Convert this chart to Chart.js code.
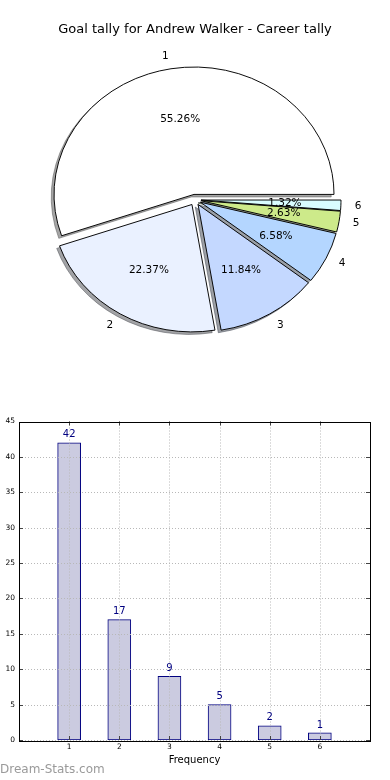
<!DOCTYPE html>
<html><head><meta charset="utf-8">
<script src="https://cdn.jsdelivr.net/npm/chart.js@4/dist/chart.umd.min.js"></script>
<style>
html,body{margin:0;padding:0;background:#fff;}
body{width:390px;height:780px;position:relative;overflow:hidden;font-family:"DejaVu Sans",sans-serif;}
#pie{position:absolute;left:0;top:0;}
#bar{position:absolute;left:0;top:400px;}
#wm{position:absolute;left:0;top:762px;font:12px "DejaVu Sans",sans-serif;color:#9a9a9a;white-space:nowrap;}
</style></head><body>
<canvas id="pie" width="390" height="362"></canvas>
<canvas id="bar" width="390" height="380"></canvas>
<div id="wm"></div>
<script>
// ---- data ----
const chartTitle = 'Goal tally for Andrew Walker - Career tally';
const categories = ['1', '2', '3', '4', '5', '6'];
const goalCounts = [42, 17, 9, 5, 2, 1];
const yTickValues = [0, 5, 10, 15, 20, 25, 30, 35, 40, 45];
const xAxisLabel = 'Frequency';
const watermarkText = 'Dream-Stats.com';
const pieColors = ['#ffffff', '#eaf1ff', '#c4d8ff', '#b4d6ff', '#cdea8a', '#d9fdff'];

document.getElementById('wm').textContent = watermarkText;

const total = goalCounts.reduce((a, b) => a + b, 0);
const pctLabels = goalCounts.map(v => (v / total * 100).toFixed(2) + '%');
const rev = a => a.slice().reverse();

const SY = 0.91, EXPLODE = 6, SHADOW = 2.8;
function shadowColor(hex) {
  const h = hex.replace('#', '');
  const r = parseInt(h.slice(0, 2), 16), g = parseInt(h.slice(2, 4), 16), b = parseInt(h.slice(4, 6), 16);
  return 'rgba(' + Math.round(r * 0.3) + ',' + Math.round(g * 0.3) + ',' + Math.round(b * 0.3) + ',0.5)';
}

const piePlugin = {
  id: 'pieExtras',
  afterUpdate(chart) {
    chart.getDatasetMeta(0).data.forEach(el => {
      if (el._patched) return;
      const orig = el.draw;
      el.draw = function (ctx, area) {
        const mid = (this.startAngle + this.endAngle) / 2;
        ctx.save();
        ctx.translate(Math.cos(mid) * EXPLODE, Math.sin(mid) * EXPLODE);
        orig.call(this, ctx, area);
        ctx.restore();
      };
      el._patched = true;
    });
  },
  beforeDatasetsDraw(chart) {
    const ctx = chart.ctx;
    const meta = chart.getDatasetMeta(0);
    const cx = meta.data[0].x, cy = meta.data[0].y;
    ctx.save();
    ctx.translate(cx, cy); ctx.scale(1, SY); ctx.translate(-cx, -cy);
    meta.data.forEach(el => {
      const mid = (el.startAngle + el.endAngle) / 2;
      const x = el.x + Math.cos(mid) * EXPLODE - SHADOW;
      const y = el.y + Math.sin(mid) * EXPLODE + SHADOW;
      const col = shadowColor(el.options.backgroundColor);
      ctx.beginPath();
      ctx.moveTo(x, y);
      ctx.arc(x, y, el.outerRadius, el.startAngle, el.endAngle);
      ctx.closePath();
      ctx.fillStyle = col; ctx.fill();
      ctx.strokeStyle = col; ctx.lineWidth = 1; ctx.stroke();
    });
  },
  afterDatasetsDraw(chart) {
    const ctx = chart.ctx;
    ctx.restore();
    const meta = chart.getDatasetMeta(0);
    const n = meta.data.length;
    ctx.save();
    ctx.font = '10.5px "DejaVu Sans"';
    ctx.fillStyle = '#000';
    ctx.textBaseline = 'middle';
    meta.data.forEach((el, j) => {
      const i = n - 1 - j;
      const mid = (el.startAngle + el.endAngle) / 2;
      const c = Math.cos(mid), s = Math.sin(mid);
      const bx = el.x + c * EXPLODE, by = el.y + s * EXPLODE * SY;
      const r = el.outerRadius;
      ctx.textAlign = c > 0 ? 'left' : 'right';
      ctx.fillText(categories[i], bx + c * r * 1.1, by + s * r * 1.1 * SY);
      ctx.textAlign = 'center';
      ctx.fillText(pctLabels[i], bx + c * r * 0.6, by + s * r * 0.6 * SY);
    });
    ctx.restore();
  }
};

new Chart(document.getElementById('pie'), {
  type: 'pie',
  data: {
    labels: rev(categories),
    datasets: [{
      data: rev(goalCounts),
      backgroundColor: rev(pieColors),
      borderColor: '#000',
      borderWidth: 1,
      clip: false
    }]
  },
  options: {
    responsive: false, animation: false, events: [],
    rotation: 90, radius: 140,
    layout: { padding: 0 },
    plugins: {
      legend: { display: false }, tooltip: { enabled: false },
      title: {
        display: true, text: chartTitle, color: '#000',
        font: { family: 'DejaVu Sans', size: 13, weight: 'normal' },
        padding: { top: 22, bottom: 0 }
      }
    }
  },
  plugins: [piePlugin]
});

const barPlugin = {
  id: 'barExtras',
  afterDatasetsDraw(chart) {
    const ctx = chart.ctx;
    const { left, right, top, bottom } = chart.chartArea;
    const xs = chart.scales.x, ys = chart.scales.y;
    ctx.save();
    // dotted grid
    ctx.strokeStyle = '#b8b8b8'; ctx.lineWidth = 1; ctx.setLineDash([1, 2]);
    categories.forEach(c => {
      const x = Math.round(xs.getPixelForValue(Number(c))) + 0.5;
      ctx.beginPath(); ctx.moveTo(x, top); ctx.lineTo(x, bottom); ctx.stroke();
    });
    yTickValues.forEach(v => {
      const y = Math.round(ys.getPixelForValue(v)) + 0.5;
      ctx.beginPath(); ctx.moveTo(left, y); ctx.lineTo(right, y); ctx.stroke();
    });
    ctx.setLineDash([]);
    // tick marks (inward, all sides)
    ctx.strokeStyle = '#444';
    categories.forEach(c => {
      const x = Math.round(xs.getPixelForValue(Number(c))) + 0.5;
      ctx.beginPath(); ctx.moveTo(x, bottom); ctx.lineTo(x, bottom - 4); ctx.stroke();
      ctx.beginPath(); ctx.moveTo(x, top); ctx.lineTo(x, top + 4); ctx.stroke();
    });
    yTickValues.forEach(v => {
      const y = Math.round(ys.getPixelForValue(v)) + 0.5;
      ctx.beginPath(); ctx.moveTo(left, y); ctx.lineTo(left + 4, y); ctx.stroke();
      ctx.beginPath(); ctx.moveTo(right, y); ctx.lineTo(right - 4, y); ctx.stroke();
    });
    // frame
    ctx.strokeStyle = '#000';
    ctx.strokeRect(Math.round(left) + 0.5, Math.round(top) + 0.5, Math.round(right - left), Math.round(bottom - top));
    // value labels
    ctx.fillStyle = '#000080';
    ctx.font = '10px "DejaVu Sans"';
    ctx.textAlign = 'center'; ctx.textBaseline = 'middle';
    chart.getDatasetMeta(0).data.forEach((el, i) => {
      ctx.fillText(String(goalCounts[i]), el.x, el.y - 8);
    });
    ctx.restore();
  }
};

new Chart(document.getElementById('bar'), {
  type: 'bar',
  data: {
    datasets: [{
      data: categories.map((c, i) => ({ x: Number(c), y: goalCounts[i] })),
      backgroundColor: '#cbcbe0',
      borderColor: '#000080',
      borderWidth: 1,
      borderSkipped: false,
      barThickness: 23
    }]
  },
  options: {
    responsive: false, animation: false, events: [],
    layout: { padding: { top: 21.5, right: 20, left: 0, bottom: 0 } },
    plugins: { legend: { display: false }, tooltip: { enabled: false } },
    scales: {
      x: {
        type: 'linear', min: 0, max: 7, offset: false,
        grid: { display: false, drawTicks: false, offset: false }, border: { display: false },
        afterBuildTicks(s) { s.ticks = categories.map(c => ({ value: Number(c) })); },
        afterFit(s) { s.height = 40; },
        ticks: { font: { family: 'DejaVu Sans', size: 7.5 }, color: '#000', padding: 3, maxRotation: 0, autoSkip: false },
        title: { display: true, text: xAxisLabel, color: '#000', font: { family: 'DejaVu Sans', size: 10 }, padding: { top: 0, bottom: 14 } }
      },
      y: {
        min: 0, max: 45,
        grid: { display: false, drawTicks: false }, border: { display: false },
        afterBuildTicks(s) { s.ticks = yTickValues.map(v => ({ value: v })); },
        afterFit(s) { s.width = 19; },
        ticks: { font: { family: 'DejaVu Sans', size: 7.5 }, color: '#000', padding: 4 }
      }
    }
  },
  plugins: [barPlugin]
});
</script>
</body></html>
